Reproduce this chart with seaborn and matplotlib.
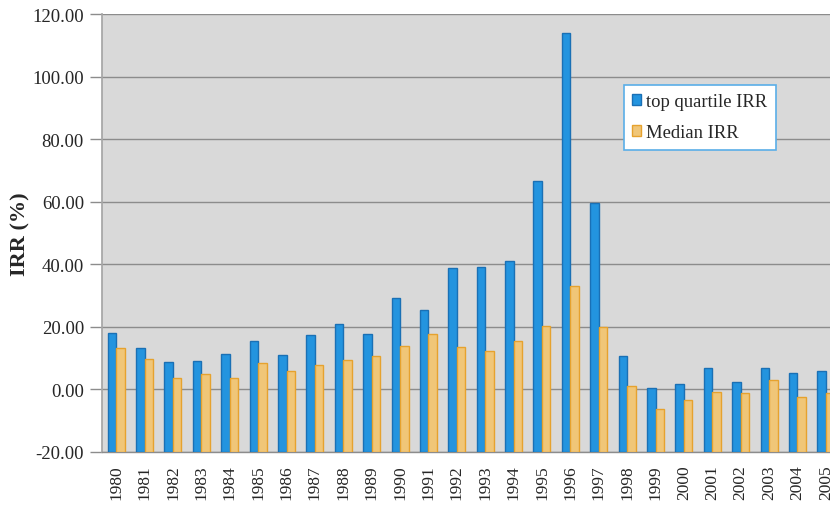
import matplotlib
matplotlib.use("Agg")
import matplotlib.pyplot as plt
from matplotlib.patches import Patch
import seaborn as sns
import pandas as pd

years = [str(y) for y in range(1980, 2006)]
top_quartile = [18.0, 13.4, 8.7, 9.1, 11.2, 15.4, 10.9, 17.5, 20.8, 17.6,
                29.2, 25.5, 38.8, 39.0, 40.9, 66.6, 114.0, 59.6, 10.6, 0.3,
                1.8, 6.8, 2.3, 6.9, 5.2, 5.8]
median = [13.2, 9.8, 3.6, 4.8, 3.7, 8.5, 6.0, 7.7, 9.4, 10.7,
          13.9, 17.6, 13.5, 12.4, 15.5, 20.2, 33.0, 19.8, 1.0, -6.3,
          -3.3, -0.8, -1.3, 2.9, -2.5, -1.2]
series_names = ["top quartile IRR", "Median IRR"]
y_ticks = [-20, 0, 20, 40, 60, 80, 100, 120]

df = pd.DataFrame({
    "year": years * 2,
    "irr": top_quartile + median,
    "series": [series_names[0]] * len(years) + [series_names[1]] * len(years),
})

sns.set_theme(style="white")
plt.rcParams["font.family"] = ["Liberation Serif", "DejaVu Serif"]

fig = plt.figure(figsize=(8.30, 5.06), dpi=100)
ax = fig.add_axes([102 / 830, 53 / 506, 738 / 830, 438 / 506])
ax.set_facecolor("#d9d9d9")

fills = {series_names[0]: "#2394df", series_names[1]: "#f0c678"}
edges = {series_names[0]: "#1a70b5", series_names[1]: "#e6a22e"}

sns.barplot(data=df, x="year", y="irr", hue="series", order=years,
            hue_order=series_names, palette=fills, saturation=1, width=0.6,
            errorbar=None, ax=ax, zorder=3, legend=False)

# bars start from the bottom of the value axis (-20)
base = y_ticks[0]
for name, cont in zip(series_names, ax.containers):
    for rect in cont:
        v = rect.get_height()
        rect.set_y(base)
        rect.set_height(v - base)
        rect.set_edgecolor(edges[name])
        rect.set_linewidth(1.0)

ax.set_ylim(y_ticks[0], y_ticks[-1])
ax.set_xlim(-0.5, len(years) - 0.5)
ax.set_yticks(y_ticks)
ax.set_yticklabels([f"{t:.2f}" for t in y_ticks], fontsize=13.5)
ax.yaxis.grid(True, color="#8c8c8c", linewidth=1.0, zorder=0)
ax.set_axisbelow(True)

ax.tick_params(axis="y", which="both", left=True, length=9, width=1,
               color="#8c8c8c", pad=4)
ax.tick_params(axis="x", bottom=False, labelsize=12.5, pad=3)
plt.setp(ax.get_xticklabels(), rotation=90)

for s in ["top", "right"]:
    ax.spines[s].set_visible(False)
ax.spines["left"].set_color("#a6a6a6")
ax.spines["bottom"].set_color("#8c8c8c")
ax.spines["bottom"].set_linewidth(1.0)

ax.set_xlabel("")
ax.set_ylabel("IRR (%)", fontsize=16, fontweight="bold", labelpad=1)

handles = [Patch(facecolor=fills[n], edgecolor=edges[n], label=n)
           for n in series_names]
leg = ax.legend(handles=handles, loc="upper left",
                bbox_to_anchor=(0.707, 0.838), frameon=True, fancybox=False,
                edgecolor="#5aaee8", framealpha=1.0, fontsize=13.4,
                handlelength=0.5, handleheight=0.5, handletextpad=0.25,
                labelspacing=0.75, borderpad=0.45, borderaxespad=0)
leg.get_frame().set_linewidth(1.2)

fig.savefig("out.png", dpi=100)
